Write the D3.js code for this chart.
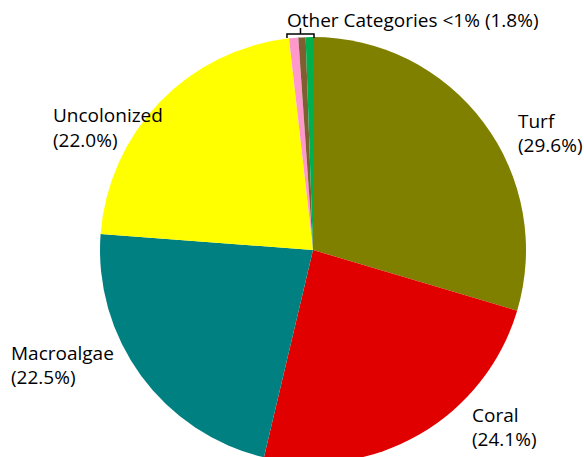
<!DOCTYPE html>
<html><head><meta charset="utf-8">
<script src="https://cdn.jsdelivr.net/npm/d3@7/dist/d3.min.js"></script>
<style>body{margin:0;background:#fff}svg{display:block}</style>
</head><body>
<svg id="c" width="584" height="457"></svg>
<script>
const categories = ["Turf", "Coral", "Macroalgae", "Uncolonized", "Other A", "Other B", "Other C"];
const values = [29.6, 24.1, 22.5, 22.0, 0.7, 0.55, 0.55];
const colors = ["#808000", "#e00000", "#008080", "#ffff00", "#ff99cc", "#7f5f2f", "#00b04f"];
const labelLines = [["Turf", "(29.6%)"], ["Coral", "(24.1%)"], ["Macroalgae", "(22.5%)"], ["Uncolonized", "(22.0%)"]];
const otherLabel = "Other Categories <1% (1.8%)";

const svg = d3.select("#c");
const cx = 313, cy = 250, r = 213;
const pie = d3.pie().sort(null).value(d => d)(values);
const arc = d3.arc().innerRadius(0).outerRadius(r);
const color = d3.scaleOrdinal().domain(categories).range(colors);

const g = svg.append("g").attr("transform", `translate(${cx},${cy})`);
g.selectAll("path").data(pie).enter().append("path")
  .attr("d", arc).attr("fill", (d, i) => color(categories[i]));

const labelPos = [[518, 127.5], [472, 421.5], [11, 359.5], [53, 122]];
const font = "'Open Sans', sans-serif";
labelLines.forEach((lines, i) => {
  const t = svg.append("text").attr("x", labelPos[i][0]).attr("y", labelPos[i][1])
    .attr("font-family", font).attr("font-size", 19).attr("fill", "#000");
  lines.forEach((l, j) => t.append("tspan").attr("x", labelPos[i][0]).attr("dy", j ? 24.5 : 0).text(l));
});

// bracket over the small slices
const small = pie.slice(4);
const a0 = small[0].startAngle, a1 = small[small.length - 1].endAngle;
const xL = cx + r * Math.sin(a0) - 2, xR = cx + r * Math.sin(a1) + 1;
const xm = (xL + xR) / 2;
svg.append("path")
  .attr("d", `M${xL},38 V34 H${xR} V38 M${xm},34 V28`)
  .attr("fill", "none").attr("stroke", "#000").attr("stroke-width", 1.5);
svg.append("text").attr("x", 287).attr("y", 27)
  .attr("font-family", font).attr("font-size", 19).attr("fill", "#000").text(otherLabel);
</script>
</body></html>
